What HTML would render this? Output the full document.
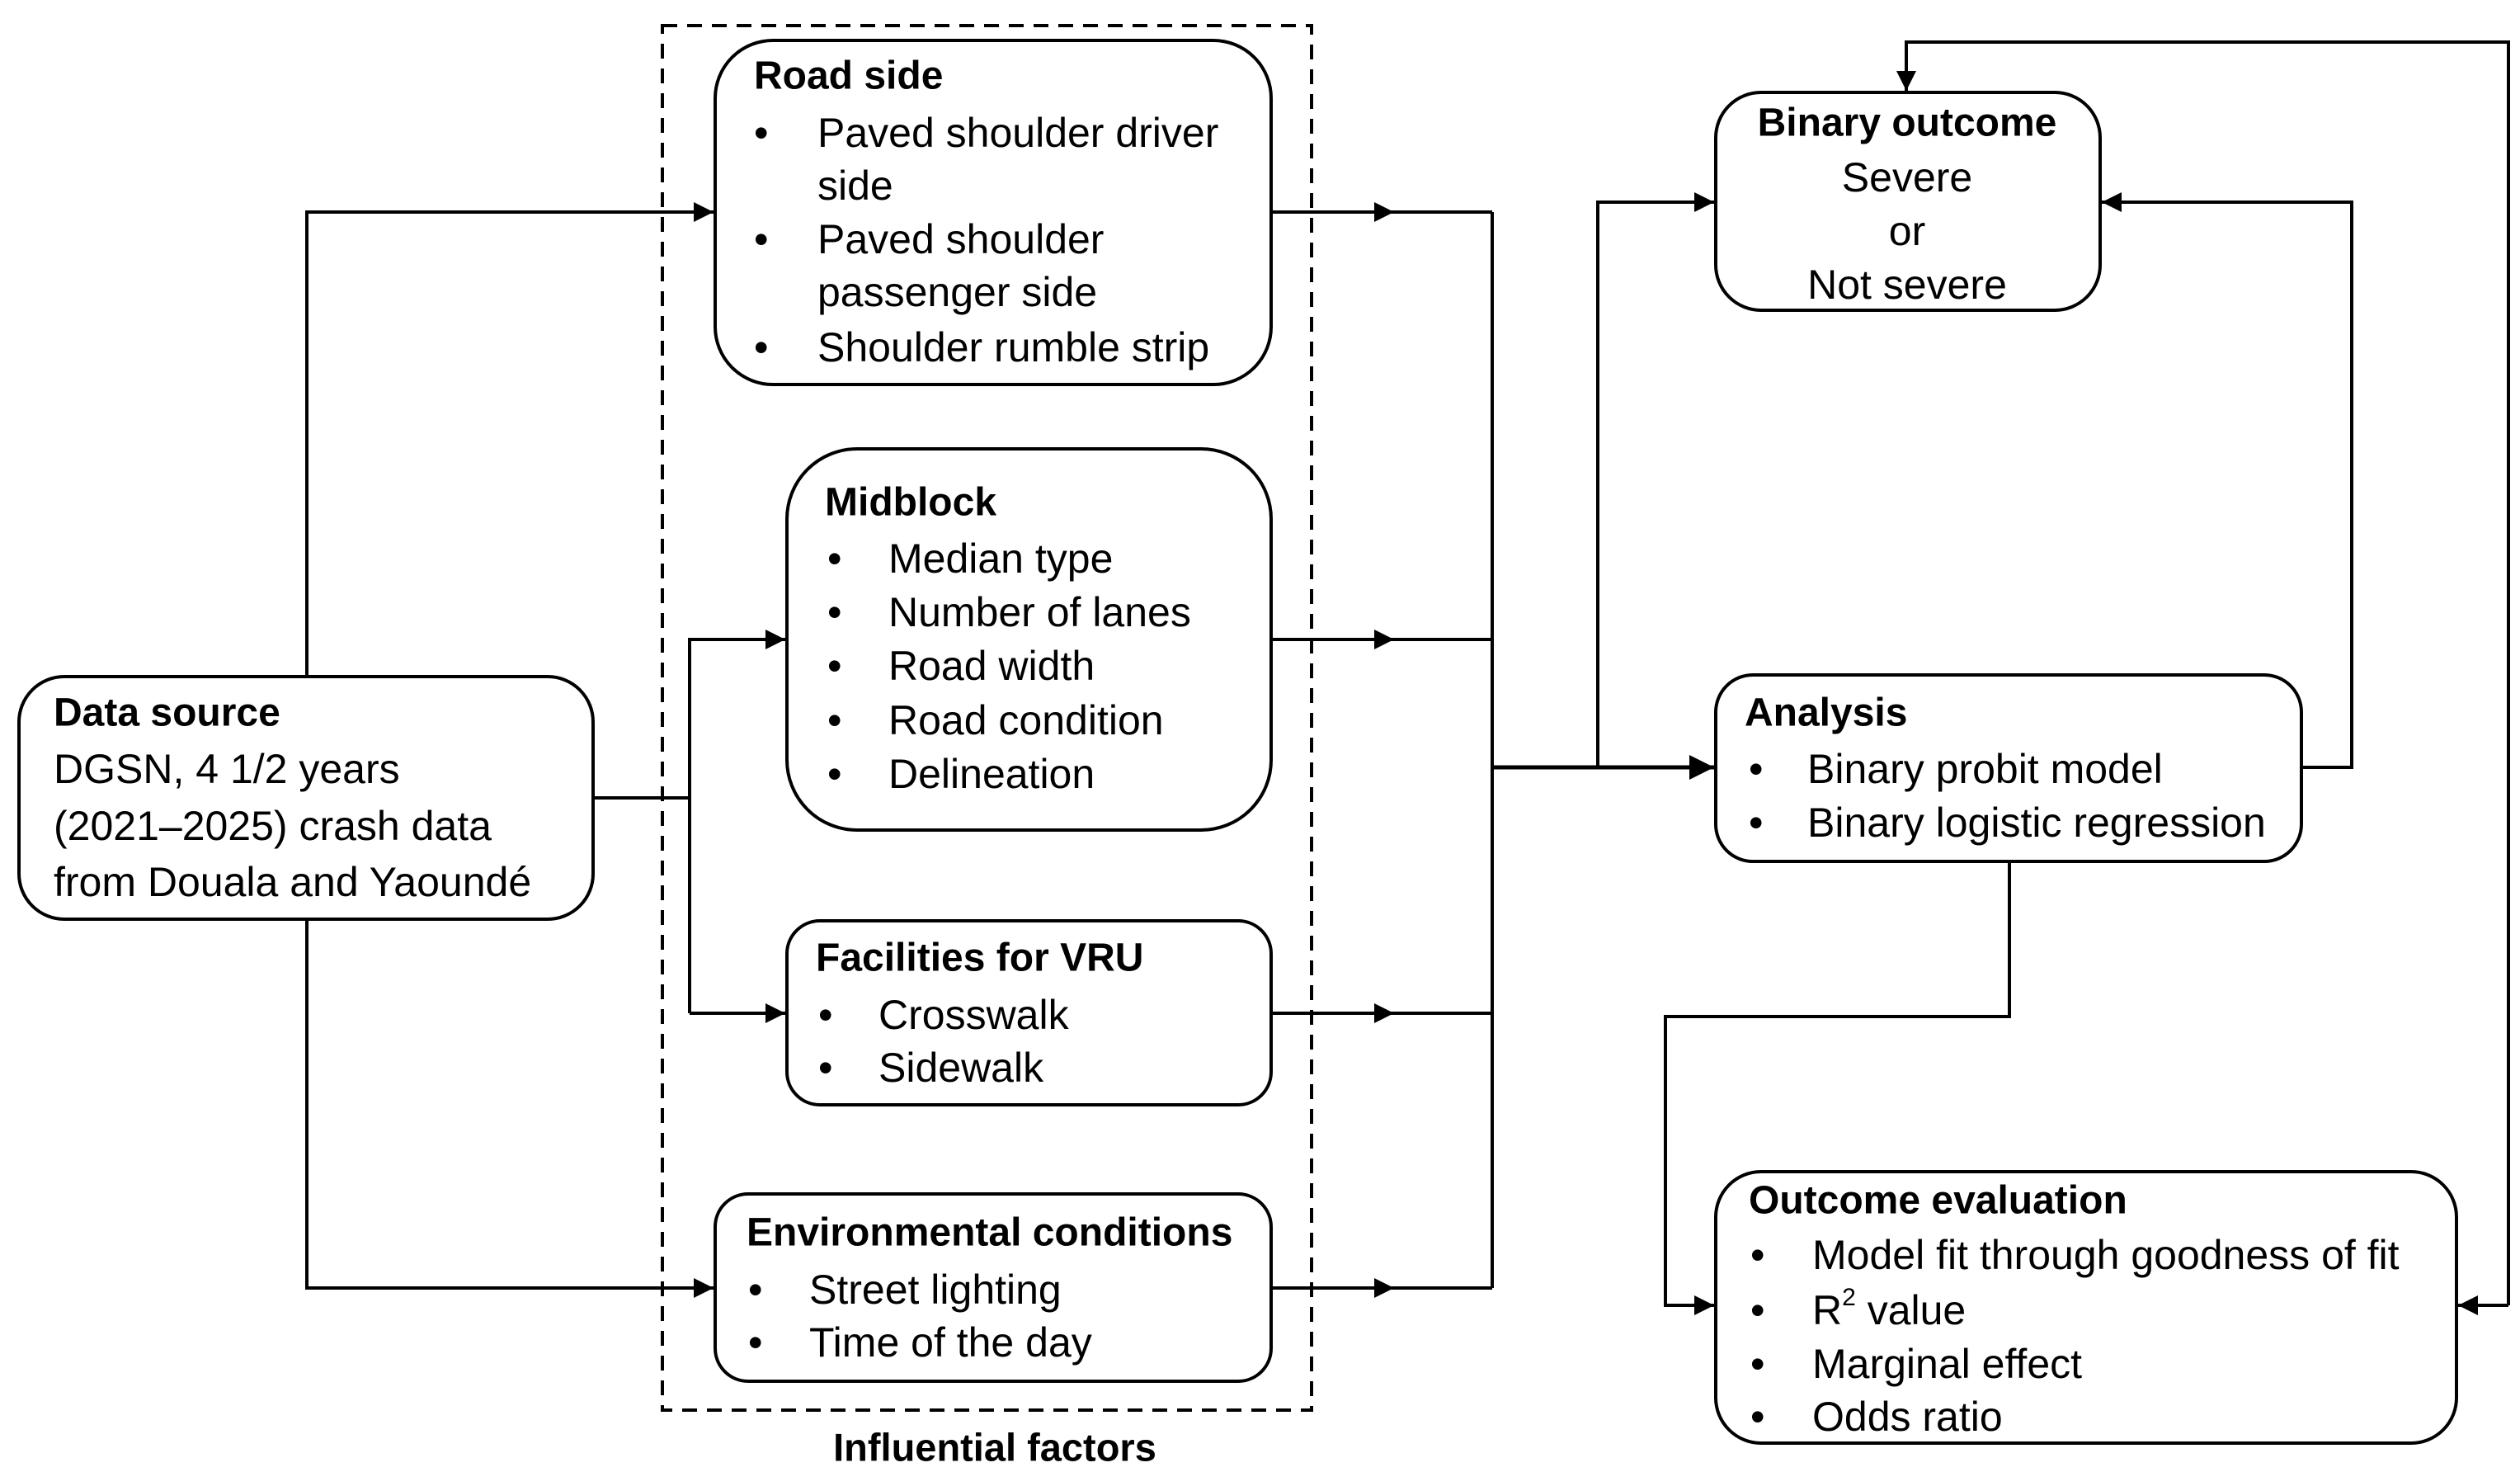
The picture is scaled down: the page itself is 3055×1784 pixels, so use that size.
<!DOCTYPE html>
<html><head><meta charset="utf-8"><style>
html,body{margin:0;padding:0;background:#fff}
svg{display:block}
text{font-family:"Liberation Sans",sans-serif;font-size:50px;fill:#000;dominant-baseline:central}
.b{font-weight:bold;font-size:48px}
</style></head><body>
<svg width="3055" height="1784" viewBox="0 0 3055 1784" xmlns="http://www.w3.org/2000/svg">
<defs>
<marker id="a" viewBox="0 0 10 10" refX="10" refY="5" markerWidth="6" markerHeight="6" markerUnits="strokeWidth" orient="auto"><path d="M0,0 L10,5 L0,10 z" fill="#000"/></marker>
</defs>
<g fill="none" stroke="#000" stroke-width="4">
<rect x="803" y="31" width="787" height="1678" stroke-dasharray="18,12"/>
<rect x="867" y="49" width="674" height="417" rx="70"/>
<rect x="954" y="544" width="587" height="462" rx="85"/>
<rect x="954" y="1116" width="587" height="223" rx="40"/>
<rect x="867" y="1447" width="674" height="227" rx="40"/>
<rect x="23" y="820" width="696" height="294" rx="55"/>
<rect x="2080" y="112" width="466" height="264" rx="55"/>
<rect x="2080" y="818" width="710" height="226" rx="45"/>
<rect x="2080" y="1420" width="898" height="329" rx="55"/>
<path d="M372 820 V257 H865" marker-end="url(#a)"/>
<path d="M372 1114 V1561 H865" marker-end="url(#a)"/>
<path d="M719 967 H836"/>
<path d="M836 1228 V775 H952" marker-end="url(#a)"/>
<path d="M836 1228 H952" marker-end="url(#a)"/>
<path d="M1541 257 H1690" marker-end="url(#a)"/><path d="M1680 257 H1809"/>
<path d="M1541 775 H1690" marker-end="url(#a)"/><path d="M1680 775 H1809"/>
<path d="M1541 1228 H1690" marker-end="url(#a)"/><path d="M1680 1228 H1809"/>
<path d="M1541 1561 H1690" marker-end="url(#a)"/><path d="M1680 1561 H1809"/>
<path d="M1809 257 V1561"/>
<path d="M1809 930 H2078" stroke-width="5" marker-end="url(#a)"/>
<path d="M1937 930 V245 H2078" marker-end="url(#a)"/>
<path d="M2790 930 H2851 V245 H2548" marker-end="url(#a)"/>
<path d="M2436 1044 V1232 H2019 V1582 H2078" marker-end="url(#a)"/>
<path d="M3041 1582 V51 H2311 V110" marker-end="url(#a)"/>
<path d="M3041 1582 H2980" marker-end="url(#a)"/>
</g>
<text x="914" y="92" class="b">Road side</text>
<text x="914" y="161">•</text><text x="991" y="161">Paved shoulder driver</text>
<text x="991" y="225">side</text>
<text x="914" y="290">•</text><text x="991" y="290">Paved shoulder</text>
<text x="991" y="354">passenger side</text>
<text x="914" y="421">•</text><text x="991" y="421">Shoulder rumble strip</text>

<text x="1000" y="609" class="b">Midblock</text>
<text x="1003" y="677">•</text><text x="1077" y="677">Median type</text>
<text x="1003" y="742">•</text><text x="1077" y="742">Number of lanes</text>
<text x="1003" y="807">•</text><text x="1077" y="807">Road width</text>
<text x="1003" y="873">•</text><text x="1077" y="873">Road condition</text>
<text x="1003" y="938">•</text><text x="1077" y="938">Delineation</text>

<text x="989" y="1161" class="b">Facilities for VRU</text>
<text x="992" y="1230">•</text><text x="1065" y="1230">Crosswalk</text>
<text x="992" y="1294">•</text><text x="1065" y="1294">Sidewalk</text>

<text x="905" y="1494" class="b">Environmental conditions</text>
<text x="907" y="1563">•</text><text x="981" y="1563">Street lighting</text>
<text x="907" y="1627">•</text><text x="981" y="1627">Time of the day</text>

<text x="65" y="864" class="b">Data source</text>
<text x="65" y="932">DGSN, 4 1/2 years</text>
<text x="65" y="1001">(2021–2025) crash data</text>
<text x="65" y="1069">from Douala and Yaoundé</text>

<text x="1206" y="1754" class="b" text-anchor="middle" style="font-size:47px">Influential factors</text>

<text x="2312" y="149" class="b" text-anchor="middle">Binary outcome</text>
<text x="2312" y="215" text-anchor="middle">Severe</text>
<text x="2312" y="280" text-anchor="middle">or</text>
<text x="2312" y="345" text-anchor="middle">Not severe</text>

<text x="2115" y="864" class="b">Analysis</text>
<text x="2120" y="932">•</text><text x="2191" y="932">Binary probit model</text>
<text x="2120" y="997">•</text><text x="2191" y="997">Binary logistic regression</text>

<text x="2120" y="1455" class="b">Outcome evaluation</text>
<text x="2122" y="1521">•</text><text x="2197" y="1521">Model fit through goodness of fit</text>
<text x="2122" y="1588">•</text><text x="2197" y="1588">R<tspan font-size="30" dy="-16">2</tspan><tspan dy="16"> value</tspan></text>
<text x="2122" y="1653">•</text><text x="2197" y="1653">Marginal effect</text>
<text x="2122" y="1717">•</text><text x="2197" y="1717">Odds ratio</text>
</svg>
</body></html>
